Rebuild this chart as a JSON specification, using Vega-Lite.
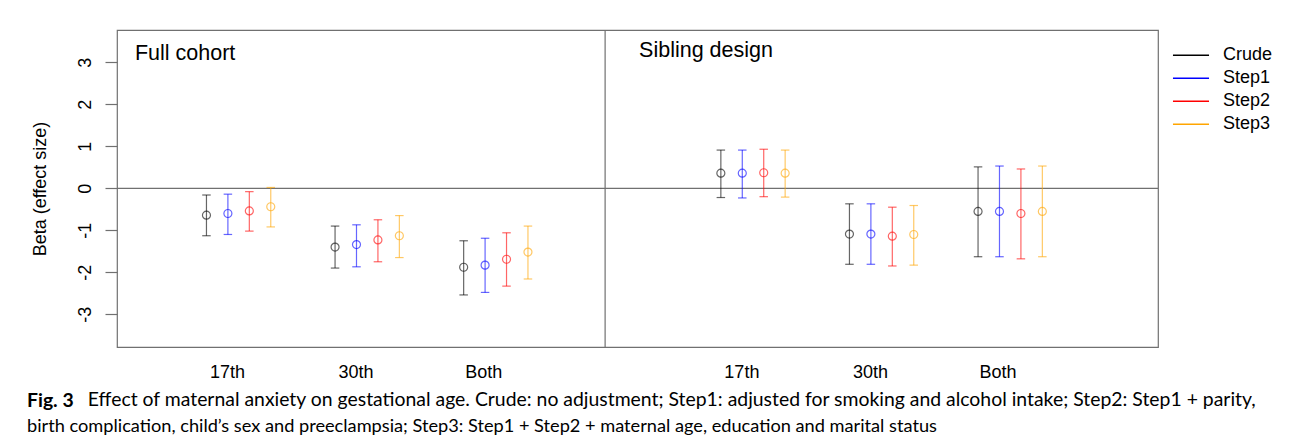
{
  "$schema": "https://vega.github.io/schema/vega-lite/v6.json",
  "width": 1041,
  "height": 317,
  "autosize": {"type": "none"},
  "padding": {"left": 117, "top": 30, "right": 135, "bottom": 95},
  "background": "white",
  "config": {
    "view": {"stroke": "#707070", "strokeWidth": 1.2},
    "font": "Liberation Sans"
  },
  "title": {
    "text": "Fig. 3",
    "subtitle": "birth complication, child’s sex and preeclampsia; Step3: Step1 + Step2 + maternal age, education and marital status",
    "orient": "bottom",
    "anchor": "start",
    "frame": "group",
    "font": "Lato",
    "fontSize": 19.4,
    "fontWeight": "bold",
    "color": "black",
    "subtitleFont": "Lato",
    "subtitleFontSize": 18.2,
    "subtitleColor": "black",
    "subtitlePadding": 6,
    "offset": 0,
    "dx": -90,
    "dy": -16
  },
  "datasets": {
    "estimates": [
      {"group": "Full cohort / 17th", "model": "Crude", "est": -0.64, "lo": -1.13, "hi": -0.16},
      {"group": "Full cohort / 17th", "model": "Step1", "est": -0.60, "lo": -1.10, "hi": -0.14},
      {"group": "Full cohort / 17th", "model": "Step2", "est": -0.54, "lo": -1.02, "hi": -0.08},
      {"group": "Full cohort / 17th", "model": "Step3", "est": -0.44, "lo": -0.92, "hi": 0.02},
      {"group": "Full cohort / 30th", "model": "Crude", "est": -1.40, "lo": -1.90, "hi": -0.90},
      {"group": "Full cohort / 30th", "model": "Step1", "est": -1.34, "lo": -1.87, "hi": -0.87},
      {"group": "Full cohort / 30th", "model": "Step2", "est": -1.23, "lo": -1.75, "hi": -0.75},
      {"group": "Full cohort / 30th", "model": "Step3", "est": -1.13, "lo": -1.65, "hi": -0.65},
      {"group": "Full cohort / Both", "model": "Crude", "est": -1.88, "lo": -2.54, "hi": -1.25},
      {"group": "Full cohort / Both", "model": "Step1", "est": -1.83, "lo": -2.48, "hi": -1.19},
      {"group": "Full cohort / Both", "model": "Step2", "est": -1.69, "lo": -2.33, "hi": -1.06},
      {"group": "Full cohort / Both", "model": "Step3", "est": -1.52, "lo": -2.16, "hi": -0.90},
      {"group": "Sibling design / 17th", "model": "Crude", "est": 0.36, "lo": -0.22, "hi": 0.91},
      {"group": "Sibling design / 17th", "model": "Step1", "est": 0.36, "lo": -0.23, "hi": 0.91},
      {"group": "Sibling design / 17th", "model": "Step2", "est": 0.37, "lo": -0.20, "hi": 0.93},
      {"group": "Sibling design / 17th", "model": "Step3", "est": 0.36, "lo": -0.21, "hi": 0.91},
      {"group": "Sibling design / 30th", "model": "Crude", "est": -1.09, "lo": -1.81, "hi": -0.37},
      {"group": "Sibling design / 30th", "model": "Step1", "est": -1.09, "lo": -1.81, "hi": -0.37},
      {"group": "Sibling design / 30th", "model": "Step2", "est": -1.14, "lo": -1.85, "hi": -0.45},
      {"group": "Sibling design / 30th", "model": "Step3", "est": -1.10, "lo": -1.83, "hi": -0.41},
      {"group": "Sibling design / Both", "model": "Crude", "est": -0.55, "lo": -1.63, "hi": 0.51},
      {"group": "Sibling design / Both", "model": "Step1", "est": -0.55, "lo": -1.63, "hi": 0.53},
      {"group": "Sibling design / Both", "model": "Step2", "est": -0.60, "lo": -1.68, "hi": 0.46},
      {"group": "Sibling design / Both", "model": "Step3", "est": -0.55, "lo": -1.63, "hi": 0.53}
    ]
  },
  "layer": [
    {
      "data": {"values": [{}]},
      "mark": {"type": "rule", "color": "#707070", "strokeWidth": 1.2},
      "encoding": {
        "y": {"datum": 0, "type": "quantitative", "scale": {"domain": [-3.78, 3.77], "nice": false, "zero": false}}
      }
    },
    {
      "data": {"values": [{}]},
      "mark": {"type": "rule", "color": "#707070", "strokeWidth": 1.2},
      "encoding": {
        "x": {"datum": "gap", "type": "nominal", "bandPosition": 0.35}
      }
    },
    {
      "data": {"values": [{"label": "Full cohort"}]},
      "mark": {"type": "text", "align": "left", "baseline": "alphabetic", "fontSize": 21.5, "font": "Liberation Sans", "color": "black"},
      "encoding": {
        "text": {"field": "label"},
        "x": {"datum": "Full cohort / 17th", "type": "nominal", "bandPosition": -0.306},
        "y": {"datum": 3.05, "type": "quantitative"}
      }
    },
    {
      "data": {"values": [{"label": "Sibling design"}]},
      "mark": {"type": "text", "align": "left", "baseline": "alphabetic", "fontSize": 21.5, "font": "Liberation Sans", "color": "black"},
      "encoding": {
        "text": {"field": "label"},
        "x": {"datum": "Sibling design / 17th", "type": "nominal", "bandPosition": -0.386},
        "y": {"datum": 3.13, "type": "quantitative"}
      }
    },
    {
      "data": {"name": "estimates"},
      "encoding": {
        "x": {
          "field": "group",
          "type": "nominal",
          "scale": {
            "type": "band",
            "domain": ["Full cohort / 17th", "Full cohort / 30th", "Full cohort / Both", "gap", "Sibling design / 17th", "Sibling design / 30th", "Sibling design / Both"],
            "paddingInner": 0,
            "paddingOuter": 0.5475,
            "align": 0.407
          },
          "sort": null,
          "axis": {
            "title": "Effect of maternal anxiety on gestational age. Crude: no adjustment; Step1: adjusted for smoking and alcohol intake; Step2: Step1 + parity,",
            "titleFont": "Lato",
            "titleFontSize": 19.4,
            "titleFontWeight": "normal",
            "titleColor": "black",
            "titleX": -29.7,
            "titleY": 58,
            "titleAlign": "left",
            "titleAnchor": "start",
            "titleBaseline": "alphabetic",
            "ticks": false,
            "tickSize": 0,
            "domain": false,
            "grid": false,
            "labelAngle": 0,
            "labelPadding": 25,
            "labelFontSize": 18,
            "labelFont": "Liberation Sans",
            "labelColor": "black",
            "labelOffset": 6.4,
            "labelExpr": "datum.value == 'gap' ? '' : split(datum.value, ' / ')[1]"
          }
        },
        "xOffset": {
          "field": "model",
          "type": "nominal",
          "scale": {"type": "band", "domain": ["Crude", "Step1", "Step2", "Step3"], "paddingInner": 0, "paddingOuter": 3}
        },
        "color": {
          "field": "model",
          "type": "nominal",
          "scale": {"domain": ["Crude", "Step1", "Step2", "Step3"], "range": ["black", "blue", "red", "orange"]},
          "legend": {
            "orient": "none",
            "legendX": 1055,
            "legendY": 14,
            "title": null,
            "symbolType": "stroke",
            "symbolSize": 1300,
            "symbolStrokeWidth": 1.6,
            "symbolOpacity": 1,
            "labelFontSize": 18,
            "labelFont": "Liberation Sans",
            "labelColor": "black",
            "labelOffset": 13,
            "clipHeight": 22.6,
            "rowPadding": 0,
            "padding": 0,
            "encode": {"symbols": {"update": {"stroke": {"scale": "color", "field": "value"}, "opacity": {"value": 1}}}}
          }
        }
      },
      "layer": [
        {
          "mark": {"type": "rule", "strokeWidth": 1.2, "opacity": 0.6},
          "encoding": {
            "y": {
              "field": "lo",
              "type": "quantitative",
              "scale": {"domain": [-3.78, 3.77], "nice": false, "zero": false},
              "axis": {
                "title": "Beta (effect size)",
                "values": [-3, -2, -1, 0, 1, 2, 3],
                "labelExpr": "'' + datum.value",
                "tickSize": 12,
                "tickColor": "#707070",
                "tickWidth": 1.2,
                "domain": false,
                "grid": false,
                "labelAngle": 270,
                "labelAlign": "center",
                "labelBaseline": "alphabetic",
                "labelPadding": 15,
                "labelFontSize": 18,
                "labelFont": "Liberation Sans",
                "labelColor": "black",
                "labelOverlap": false,
                "labelFlush": false,
                "titleFont": "Liberation Sans",
                "titleFontSize": 18,
                "titleFontWeight": "normal",
                "titleColor": "black",
                "titlePadding": 27
              }
            },
            "y2": {"field": "hi"}
          }
        },
        {
          "mark": {"type": "tick", "orient": "horizontal", "size": 8.5, "thickness": 1.2, "opacity": 0.6},
          "encoding": {
            "y": {"field": "lo", "type": "quantitative", "title": "Beta (effect size)"}
          }
        },
        {
          "mark": {"type": "tick", "orient": "horizontal", "size": 8.5, "thickness": 1.2, "opacity": 0.6},
          "encoding": {
            "y": {"field": "hi", "type": "quantitative", "title": "Beta (effect size)"}
          }
        },
        {
          "mark": {"type": "point", "shape": "circle", "filled": false, "size": 64, "strokeWidth": 1.2, "opacity": 0.6},
          "encoding": {
            "y": {"field": "est", "type": "quantitative", "title": "Beta (effect size)"}
          }
        }
      ]
    }
  ]
}
